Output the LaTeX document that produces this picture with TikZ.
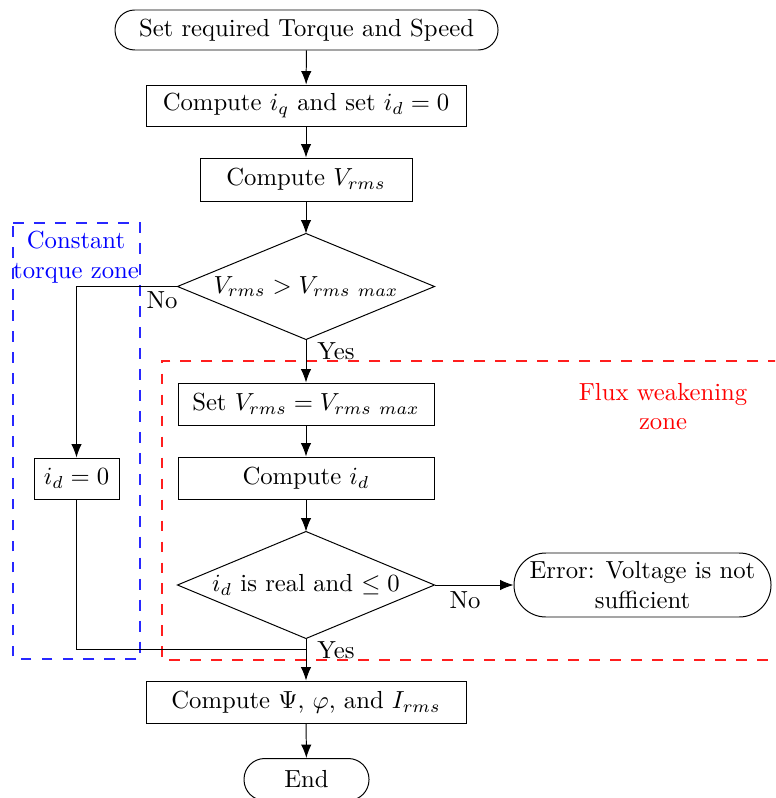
\documentclass[tikz,border=0pt]{standalone}
\usetikzlibrary{arrows.meta}
\definecolor{zoneblue}{RGB}{40,40,255}
\definecolor{zonered}{RGB}{255,30,30}
\begin{document}
\begin{tikzpicture}[x=0.405pt,y=-0.405pt,
  proc/.style={draw, rectangle, inner sep=2pt, minimum height=42*0.405pt},
  term/.style={draw, rectangle, inner sep=2pt, minimum height=40*0.405pt, rounded corners=8pt},
  dec/.style={rectangle, inner sep=0pt, minimum width=256*0.405pt, minimum height=105*0.405pt},
  arr/.style={-{Latex[length=5.4pt,width=4.2pt]}},
  lab/.style={inner sep=1pt},
  zone/.style={dash pattern=on 4.4pt off 4.1pt, line width=0.55pt}]
\clip (0,0) rectangle (775,798);
% zones
\draw[zone, draw=zoneblue] (13,223) -- (140,223) -- (140,659) -- (13,659) -- cycle;
\draw[zone, draw=zonered] (800,361) -- (162,361) -- (162,660) -- (800,660);
\node[text=blue, align=center, inner sep=0pt] (cz) at (76,257) {Constant\\torque zone};
\node[text=red, align=center, inner sep=0pt] (fz) at (663,406.5) {Flux weakening\\zone};
% nodes
\node[term, minimum width=383*0.405pt] (start) at (306.5,30) {Set required Torque and Speed};
\node[proc, minimum width=320*0.405pt, minimum height=41*0.405pt] (q) at (306,105.5) {Compute $i_q$ and set $i_d = 0$};
\node[proc, minimum width=212*0.405pt, minimum height=43*0.405pt] (v) at (306,179.5) {Compute $V_{rms}$};
\node[dec] (d1) at (306,286.5) {$V_{rms} > V_{rms\ max}$};
\draw (d1.west) -- (d1.north) -- (d1.east) -- (d1.south) -- cycle;
\node[proc, minimum width=256*0.405pt] (set) at (306,404) {Set $V_{rms} = V_{rms\ max}$};
\node[proc, minimum width=256*0.405pt] (cid) at (306,478) {Compute $i_d$};
\node[dec, minimum height=106*0.405pt] (d2) at (306,585) {$i_d$ is real and $\leq 0$};
\draw (d2.west) -- (d2.north) -- (d2.east) -- (d2.south) -- cycle;
\node[term, align=center, minimum width=257*0.405pt, minimum height=64*0.405pt, rounded corners=12.9pt] (err) at (642.5,585) {Error: Voltage is not\\sufficient};
\node[proc, minimum width=85*0.405pt, minimum height=41*0.405pt] (id0) at (76.5,478.5) {$i_d = 0$};
\node[proc, minimum width=320*0.405pt] (psi) at (306,702) {Compute $\Psi$, $\varphi$, and $I_{rms}$};
\node[term, minimum width=125*0.405pt, minimum height=42*0.405pt, rounded corners=8.4pt] (end) at (306.5,779.5) {End};
\coordinate (j) at (306,649);
% connectors
\draw[arr] (start) -- (q);
\draw[arr] (q) -- (v);
\draw[arr] (v) -- (d1.north);
\draw[arr] (d1.south) -- (set);
\draw[arr] (set) -- (cid);
\draw[arr] (cid) -- (d2.north);
\draw[arr] (d2.south) -- (psi);
\draw[arr] (psi) -- (end);
\draw[arr] (d1.west) -| (id0.north);
\draw (id0.south) |- (j);
\draw[arr] (d2.east) -- (err.west);
% labels
\node[lab] (no1) at (162,300) {No};
\node[lab] (yes1) at (336,351) {Yes};
\node[lab] (no2) at (465,600) {No};
\node[lab] (yes2) at (336,650) {Yes};
\end{tikzpicture}
\end{document}
